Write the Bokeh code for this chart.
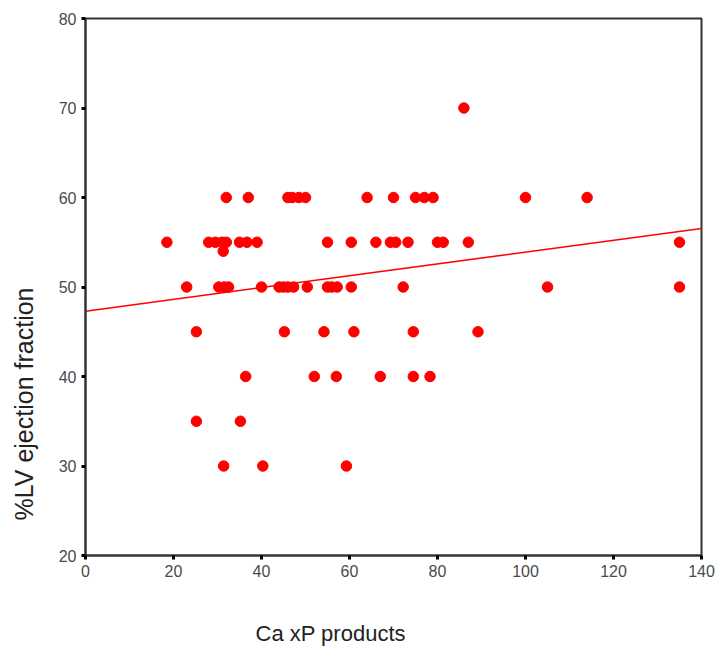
from bokeh.plotting import figure
from bokeh.models import Title, FixedTicker
from bokeh.embed import file_html
from bokeh.resources import INLINE

# --- data ---
ca_xp = [86,
         32, 37, 46, 47, 48.5, 50, 64, 70, 75, 77, 79, 100, 114,
         18.5, 28, 29.5, 31, 32, 35, 36.7, 39, 55, 60.4, 66, 69.3, 70.5, 73.3, 80, 81.3, 87, 135,
         31.3,
         23, 30.3, 31.5, 32.5, 40, 44, 45, 46, 47.3, 50.4, 55, 56, 57.2, 60.4, 72.2, 105, 135,
         25.2, 45.2, 54.2, 61, 74.5, 89.2,
         36.4, 52, 57, 67, 74.5, 78.3,
         25.2, 35.2,
         31.4, 40.3, 59.3]
lvef = [70,
        60, 60, 60, 60, 60, 60, 60, 60, 60, 60, 60, 60, 60,
        55, 55, 55, 55, 55, 55, 55, 55, 55, 55, 55, 55, 55, 55, 55, 55, 55, 55,
        54,
        50, 50, 50, 50, 50, 50, 50, 50, 50, 50, 50, 50, 50, 50, 50, 50, 50,
        45, 45, 45, 45, 45, 45,
        40, 40, 40, 40, 40, 40,
        35, 35,
        30, 30, 30]

fit_intercept = 47.3
fit_slope = 0.066
fit_x = [0, 140]

x_ticks = [0, 20, 40, 60, 80, 100, 120, 140]
y_ticks = [20, 30, 40, 50, 60, 70, 80]
x_title = "Ca xP products"
y_title = "%LV ejection fraction"

fit_y = [fit_intercept + fit_slope * v for v in fit_x]

p = figure(width=718, height=651, x_range=(0, 140), y_range=(20, 80),
           output_backend="svg", toolbar_location=None,
           min_border_left=85, min_border_right=17,
           min_border_top=18, min_border_bottom=96)
p.background_fill_color = "white"
p.border_fill_color = "white"
p.grid.visible = False
p.outline_line_color = "#333333"
p.outline_line_width = 2

for ax in (p.xaxis[0], p.yaxis[0]):
    ax.axis_line_color = "#333333"
    ax.axis_line_width = 2
    ax.major_tick_line_color = "black"
    ax.major_tick_line_width = 3
    ax.major_tick_out = 4
    ax.major_tick_in = 0
    ax.minor_tick_line_color = None
    ax.major_label_text_font = "Liberation Sans"
    ax.major_label_text_font_size = "16px"
    ax.major_label_text_color = "#4a4a4a"
    ax.major_label_standoff = 5

p.xaxis[0].ticker = FixedTicker(ticks=x_ticks)
p.yaxis[0].ticker = FixedTicker(ticks=y_ticks)

p.line(fit_x, fit_y, line_color="#ff0000", line_width=1.5)
p.scatter(ca_xp, lvef, size=10.5, fill_color="#ff0000", line_color="#ff0000")

# spacers (empty titles) push the axis titles away from the frame
p.add_layout(Title(text=" ", text_font_size="1px", standoff=36), "below")
p.add_layout(Title(text=x_title, align="left", offset=170, standoff=0,
                   text_font="Liberation Sans", text_font_size="22px",
                   text_font_style="normal", text_color="#222222"), "below")
p.add_layout(Title(text=" ", text_font_size="1px", standoff=15), "left")
p.add_layout(Title(text=y_title, align="left", offset=35, standoff=0,
                   text_font="Liberation Sans", text_font_size="25px",
                   text_font_style="normal", text_color="#222222"), "left")

open("out.html", "w").write(file_html(p, INLINE))
